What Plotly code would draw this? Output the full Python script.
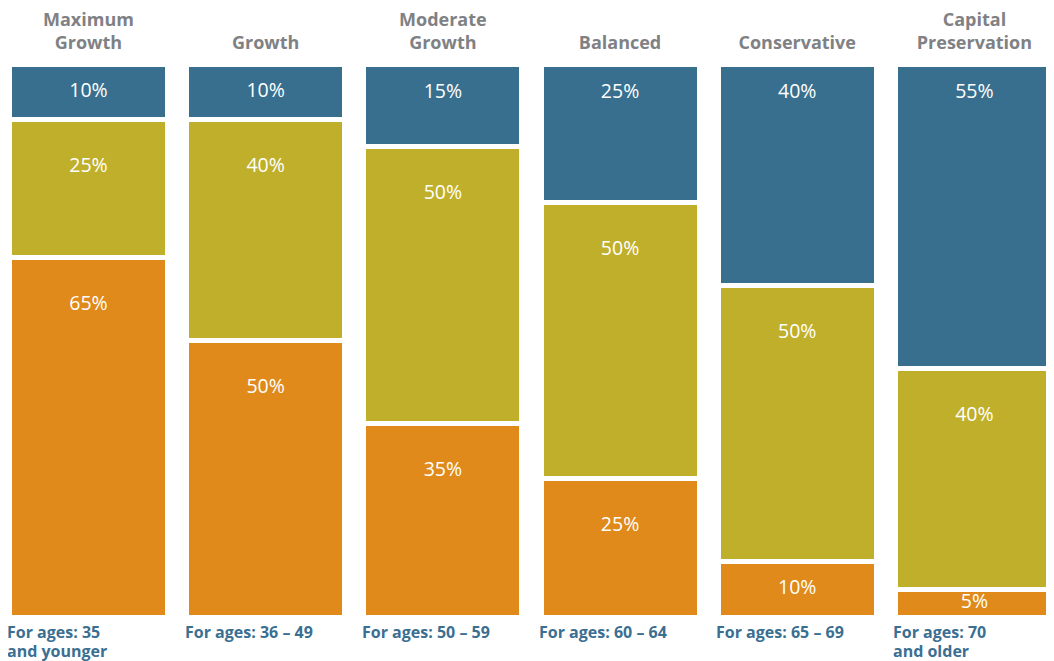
import plotly.graph_objects as go

# ---- data ----
portfolios = ["Maximum<br>Growth", "Growth", "Moderate<br>Growth", "Balanced",
              "Conservative", "Capital<br>Preservation"]
age_line1 = ["For ages: 35", "For ages: 36 – 49", "For ages: 50 – 59",
             "For ages: 60 – 64", "For ages: 65 – 69", "For ages: 70"]
age_line2 = ["and younger", "", "", "", "", "and older"]
bottom_seg = [65, 50, 35, 25, 10, 5]    # orange
middle_seg = [25, 40, 50, 50, 50, 40]   # olive
top_seg = [10, 10, 15, 25, 40, 55]      # blue

# ---- style ----
C_ORANGE = "#DF8A1A"
C_OLIVE = "#C0AF2A"
C_BLUE = "#386F8F"
C_GRAY = "#808184"
C_LABEL = "#3B6F92"
FONT = "Open Sans"

x = list(range(len(portfolios)))
fig = go.Figure()
for vals, col in [(bottom_seg, C_ORANGE), (middle_seg, C_OLIVE), (top_seg, C_BLUE)]:
    fig.add_trace(go.Bar(x=x, y=vals, marker=dict(color=col, line=dict(color="white", width=5)),
                         hoverinfo="skip", showlegend=False))

# percent labels: near top of each segment, but no lower than the segment centre
lx, ly, lt = [], [], []
for i in x:
    base = 0
    segs = [bottom_seg[i], middle_seg[i], top_seg[i]]
    for k, v in enumerate(segs):
        top = base + v
        center = base + v / 2
        off = 5.3 if k == 2 else 8.6
        lx.append(i)
        ly.append(max(center, top - off))
        lt.append(f"{v}%")
        base = top
fig.add_trace(go.Scatter(x=lx, y=ly, text=lt, mode="text",
                         textfont=dict(family=FONT, size=19.5, color="white"),
                         hoverinfo="skip", showlegend=False))

bar_w = 1 - 0.108
for i in x:
    for line, shift in [(age_line1[i], -15), (age_line2[i], -34)]:
        if not line:
            continue
        fig.add_annotation(x=i - bar_w / 2, xref="x", y=0, yref="paper",
                           text=line, showarrow=False, xanchor="left", yanchor="middle",
                           align="left",
                           font=dict(family=FONT, size=16, color=C_LABEL, weight="bold"),
                           xshift=-4, yshift=shift)

fig.update_layout(
    width=1046, height=653,
    margin=dict(l=0, r=0, t=56, b=44),
    barmode="stack", bargap=0.108,
    plot_bgcolor="white", paper_bgcolor="white",
    xaxis=dict(range=[-0.454, 5.449], side="top", tickmode="array", tickvals=x,
               ticktext=portfolios, showgrid=False, zeroline=False, showline=False,
               automargin=False, ticks="", ticklabelstandoff=10,
               tickfont=dict(family=FONT, size=18, color=C_GRAY, weight="bold")),
    yaxis=dict(range=[0, 100], visible=False, showgrid=False, zeroline=False,
               automargin=False),
)
fig.write_html("out.html")
